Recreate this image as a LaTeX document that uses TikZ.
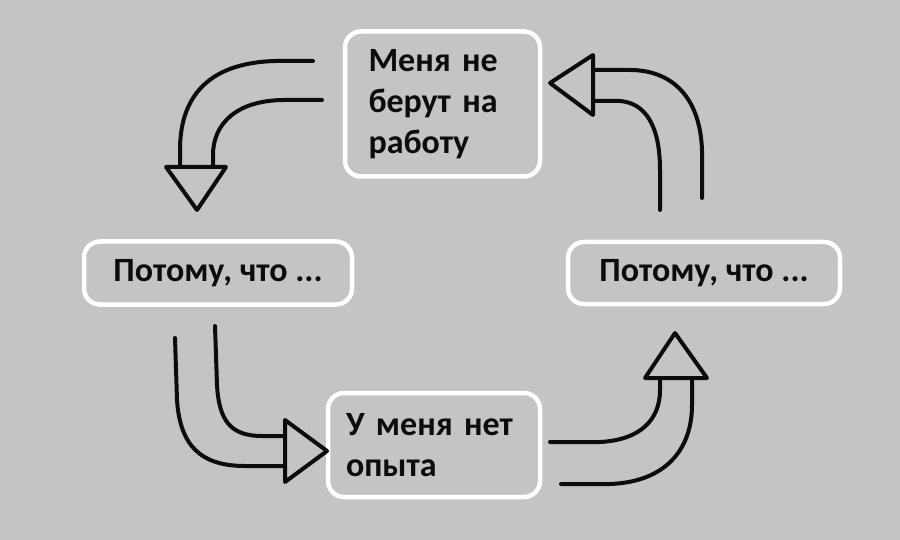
\documentclass[tikz,border=0pt]{standalone}
\usepackage{fontspec}
\setmainfont{Carlito}
\definecolor{bg}{RGB}{196,196,196}
\definecolor{ink}{RGB}{12,12,12}
\tikzset{
  box/.style={draw=white, line width=4.5pt, rounded corners=16pt, fill=bg,
    font=\fontsize{34}{41}\selectfont\bfseries, text=ink, inner sep=0pt},
  stroke/.style={draw=ink, line width=4pt, line cap=round, line join=round},
}
\begin{document}
\begin{tikzpicture}[x=1pt, y=-1pt]
\fill[bg] (0,0) rectangle (900,540);
\useasboundingbox (0,0) rectangle (900,540);

% boxes
\node[box, minimum width=195pt, minimum height=145pt, text width=148pt, align=left] (top) at (442.5,104) {Меня не\\берут на\\работу};
\node[box, minimum width=268pt, minimum height=63pt] (left) at (218,273) {Потому, что ...};
\node[box, minimum width=272pt, minimum height=62pt] (right) at (704,273) {Потому, что ...};
\node[box, minimum width=212pt, minimum height=104pt, text width=176pt, align=left] (bot) at (434,445) {У меня нет\\опыта};

% top-left arrow (top -> left)
\draw[stroke] (313,61) -- (275,61) .. controls (205,63) and (180,100) .. (180,150) -- (180,166);
\draw[stroke] (322,100) -- (285,100) .. controls (235,100) and (213,125) .. (213,155) -- (213,166);
\draw[stroke] (166,167) -- (226,167) -- (197,210) -- cycle;

% bottom-left arrow (left -> bot)
\draw[stroke] (175,338) -- (177,400) .. controls (180,445) and (200,466) .. (245,466) -- (284,466);
\draw[stroke] (215,326) -- (217,385) .. controls (219,420) and (230,436) .. (262,436) -- (285,436);
\draw[stroke] (285,420) -- (285,482) -- (327,451) -- cycle;

% bottom-right arrow (bot -> right)
\draw[stroke] (550,442) -- (600,442) .. controls (640,440) and (660,420) .. (660,390) -- (660,379);
\draw[stroke] (561,484) -- (610,484) .. controls (665,482) and (692,450) .. (692,405) -- (692,379);
\draw[stroke] (645,378) -- (707,378) -- (675,333) -- cycle;

% top-right arrow (right -> top)
\draw[stroke] (660,210) -- (660,170) .. controls (660,125) and (645,103) .. (620,101) -- (594,101);
\draw[stroke] (702,198) -- (702,150) .. controls (700,95) and (670,70) .. (630,70) -- (594,70);
\draw[stroke] (593,55) -- (593,115) -- (550,83) -- cycle;
\end{tikzpicture}
\end{document}
